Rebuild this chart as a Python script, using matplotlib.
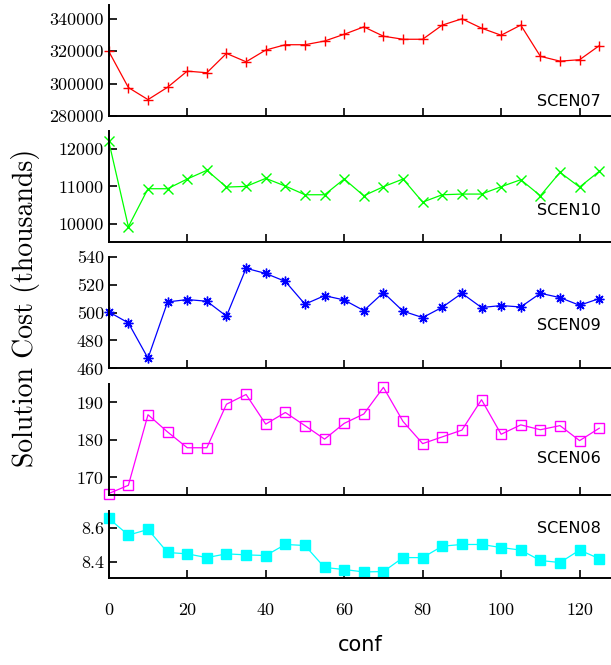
import matplotlib
matplotlib.use("Agg")
import matplotlib.pyplot as plt

conf = list(range(0, 130, 5))

scen07 = [320000, 297500, 290000, 297700, 307700, 306700, 318700, 313500, 320800, 324100,
          324100, 326400, 330600, 335200, 329400, 327500, 327500, 336300, 340200, 334400,
          330000, 336300, 316900, 313900, 314800, 323500]
scen10 = [12196, 9929, 10938, 10938, 11196, 11427, 10982, 11000, 11213, 11009,
          10778, 10778, 11196, 10751, 10991, 11196, 10582, 10778, 10796, 10796,
          10991, 11178, 10751, 11373, 10982, 11400]
scen09 = [500.5, 492.6, 467.3, 507.6, 509.3, 508.1, 497.4, 531.7, 528.0, 522.3,
          506.0, 512.1, 509.0, 501.4, 514.3, 501.0, 496.4, 503.8, 513.8, 503.6,
          505.0, 504.0, 513.8, 510.7, 505.2, 510.0]
scen06 = [165.7, 167.9, 186.7, 182.1, 177.9, 177.9, 189.5, 192.1, 184.2, 187.3,
          183.8, 180.2, 184.4, 186.9, 194.0, 184.9, 179.0, 180.8, 182.6, 190.7,
          181.5, 184.0, 182.7, 183.8, 179.8, 183.1]
scen08 = [8.655, 8.557, 8.590, 8.455, 8.447, 8.425, 8.447, 8.441, 8.437, 8.502,
          8.496, 8.367, 8.355, 8.341, 8.343, 8.425, 8.425, 8.492, 8.502, 8.502,
          8.484, 8.469, 8.408, 8.396, 8.469, 8.419]

names = ["SCEN07", "SCEN10", "SCEN09", "SCEN06", "SCEN08"]
series = [scen07, scen10, scen09, scen06, scen08]
colors = ["#ff0000", "#00ff00", "#0000ff", "#ff00ff", "#00ffff"]
markers = ["+", "x", (8, 2, 0), "s", "s"]
yticks = [[280000, 300000, 320000, 340000], [10000, 11000, 12000],
          [460, 480, 500, 520, 540], [170, 180, 190], [8.4, 8.6]]
ylims = [(280000, 349000), (9530, 12480), (460, 540), (165.3, 194.9), (8.306, 8.70)]
ylabels_fmt = ["{:.0f}", "{:.0f}", "{:.0f}", "{:.0f}", "{:.1f}"]

# panel boxes in figure fractions [left, bottom, width, height]
boxes = [[0.178, 0.826, 0.822, 0.167],
         [0.178, 0.6365, 0.822, 0.167],
         [0.178, 0.446, 0.822, 0.168],
         [0.178, 0.2556, 0.822, 0.167],
         [0.178, 0.131, 0.822, 0.101]]
label_y = [0.126, 0.285, 0.38, 0.33, 0.737]

fig = plt.figure(figsize=(6.11, 6.65), dpi=100)

for i in range(5):
    ax = fig.add_axes(boxes[i])
    fill = "none" if i == 3 else colors[i]
    ax.plot(conf, series[i], color=colors[i], lw=0.9, marker=markers[i],
            ms=7 if i < 3 else 6.5, mfc=fill, mec=colors[i], mew=1.0, clip_on=False)
    ax.set_xlim(0, 128)
    ax.set_ylim(*ylims[i])
    ax.set_yticks(yticks[i])
    ax.set_yticklabels([ylabels_fmt[i].format(v) for v in yticks[i]],
                       fontfamily="cmr10", fontsize=13)
    ax.set_xticks([20, 40, 60, 80, 100, 120])
    for s in ["top", "right"]:
        ax.spines[s].set_visible(False)
    for s in ["left", "bottom"]:
        ax.spines[s].set_linewidth(1.4)
    ax.tick_params(direction="in", length=6, width=1.2)
    ax.text(0.98, label_y[i], names[i], transform=ax.transAxes, ha="right",
            va="center", fontsize=11.5)
    if i < 4:
        ax.set_xticklabels([])
    else:
        ax.set_xticks([0, 20, 40, 60, 80, 100, 120])
        ax.set_xticklabels([str(v) for v in [0, 20, 40, 60, 80, 100, 120]],
                           fontfamily="cmr10", fontsize=13)
        ax.tick_params(axis="x", pad=18)
        ax.set_xlabel("conf", fontsize=15, labelpad=12)

fig.text(0.042, 0.537, "Solution Cost (thousands)", rotation=90, ha="center",
         va="center", fontfamily="cmr10", fontsize=20)

fig.savefig("out.png", dpi=100)
